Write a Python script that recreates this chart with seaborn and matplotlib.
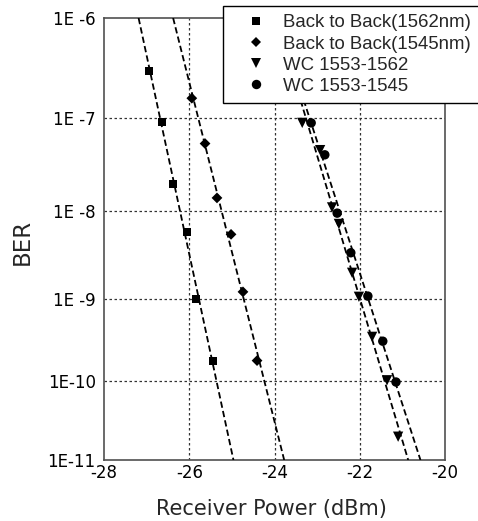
import numpy as np
import pandas as pd
import matplotlib
matplotlib.use("Agg")
import matplotlib.pyplot as plt
import seaborn as sns

# Measured BER curves
b2b_1562_power = [-26.94, -26.64, -26.38, -26.05, -25.84, -25.44]
b2b_1562_ber = [3.0e-7, 9.1e-8, 2.0e-8, 5.9e-9, 9.8e-10, 1.8e-10]

b2b_1545_power = [-25.94, -25.63, -25.35, -25.02, -24.74, -24.41]
b2b_1545_ber = [1.6e-7, 5.4e-8, 1.4e-8, 5.5e-9, 1.2e-9, 1.8e-10]

wc_1562_power = [-23.35, -22.93, -22.65, -22.49, -22.18, -22.02, -21.71, -21.36, -21.10]
wc_1562_ber = [8.9e-8, 4.6e-8, 1.1e-8, 7.2e-9, 2.0e-9, 1.05e-9, 3.5e-10, 1.03e-10, 2.0e-11]

wc_1545_power = [-23.14, -22.82, -22.53, -22.21, -21.81, -21.46, -21.15]
wc_1545_ber = [8.9e-8, 4.1e-8, 9.5e-9, 3.4e-9, 1.07e-9, 3.1e-10, 9.8e-11]

series_names = ["Back to Back(1562nm)", "Back to Back(1545nm)",
                "WC 1553-1562", "WC 1553-1545"]
series_markers = ["s", "D", "v", "o"]
series_sizes = [34, 30, 55, 46]

y_ticks = [1e-6, 1e-7, 1e-8, 1e-9, 1e-10, 1e-11]
y_tick_labels = ["1E -6", "1E -7", "1E -8", "1E -9", "1E-10", "1E-11"]
x_ticks = [-28, -26, -24, -22, -20]

powers = [b2b_1562_power, b2b_1545_power, wc_1562_power, wc_1545_power]
bers = [b2b_1562_ber, b2b_1545_ber, wc_1562_ber, wc_1545_ber]

df = pd.concat(
    [pd.DataFrame({"power": p, "ber": b, "series": n})
     for p, b, n in zip(powers, bers, series_names)],
    ignore_index=True,
)

sns.set_theme(style="white")
plt.rcParams["font.family"] = ["Liberation Sans", "DejaVu Sans"]


def ber_fwd(b):
    b = np.clip(np.asarray(b, dtype=float), 1e-300, 1.0)
    return -np.sqrt(-np.log10(b))


def ber_inv(y):
    y = np.asarray(y, dtype=float)
    return 10.0 ** (-(y ** 2))


fig = plt.figure(figsize=(4.78, 5.21), dpi=100)
ax = fig.add_axes([0.2176, 0.1171, 0.7134, 0.8484])
ax.set_yscale("function", functions=(ber_fwd, ber_inv))
ax.set_xlim(-28, -20)
ax.set_ylim(1e-11, 1e-6)

# Linear fits in the BER-scale coordinate, drawn across the full plot height
y_span = np.array([1e-6, 1e-11])
for p, b in zip(powers, bers):
    coef = np.polyfit(ber_fwd(b), p, 1)
    xs = np.polyval(coef, ber_fwd(y_span))
    ax.plot(xs, y_span, color="black", lw=1.3, linestyle=(0, (3.5, 1.8)), zorder=3)

sns.scatterplot(
    data=df, x="power", y="ber", style="series", size="series",
    markers=dict(zip(series_names, series_markers)),
    sizes=dict(zip(series_names, series_sizes)),
    color="black", edgecolor="black", linewidth=0,
    ax=ax, zorder=4, legend=True,
)

ax.set_yticks(y_ticks)
ax.set_yticklabels(y_tick_labels)
ax.yaxis.set_minor_locator(matplotlib.ticker.NullLocator())
ax.set_xticks(x_ticks)
ax.set_xticklabels([str(v) for v in x_ticks])
ax.tick_params(axis="both", length=0, labelsize=12, colors="black",
               labelfontfamily="DejaVu Sans")
ax.tick_params(axis="y", pad=6)
ax.tick_params(axis="x", pad=2.7)

for v in [-26, -24, -22]:
    ax.axvline(v, color="#333333", lw=0.9, linestyle=(0, (2, 2)), zorder=1)
for v in [1e-7, 1e-8, 1e-9, 1e-10]:
    ax.axhline(v, color="#333333", lw=0.9, linestyle=(0, (2, 2)), zorder=1)

for s in ax.spines.values():
    s.set_color("#505050")
    s.set_linewidth(1.2)

ax.set_xlabel("Receiver Power (dBm)", fontsize=15, family="DejaVu Sans")
ax.set_ylabel("BER", fontsize=16.5, family="DejaVu Sans")
ax.xaxis.label.set_va("center")
ax.yaxis.label.set_va("center")
ax.xaxis.set_label_coords(0.491, -0.112)
ax.yaxis.set_label_coords(-0.2405, 0.493)

handles, labels = ax.get_legend_handles_labels()
if ax.get_legend() is not None:
    ax.get_legend().remove()
leg = fig.legend(
    handles, labels, loc="upper left",
    bbox_to_anchor=(223 / 478, 1 - 6 / 521), bbox_transform=fig.transFigure,
    prop={"family": "Liberation Sans", "size": 13.4},
    frameon=True, fancybox=False, shadow=False, framealpha=1.0,
    handlelength=2.6, handletextpad=0.2, labelspacing=0.22,
    borderpad=0.45, borderaxespad=0,
)
leg.get_frame().set_edgecolor("black")
leg.get_frame().set_linewidth(1.0)
leg.get_frame().set_facecolor("white")
leg.set_zorder(10)

fig.savefig("out.png", dpi=100)
